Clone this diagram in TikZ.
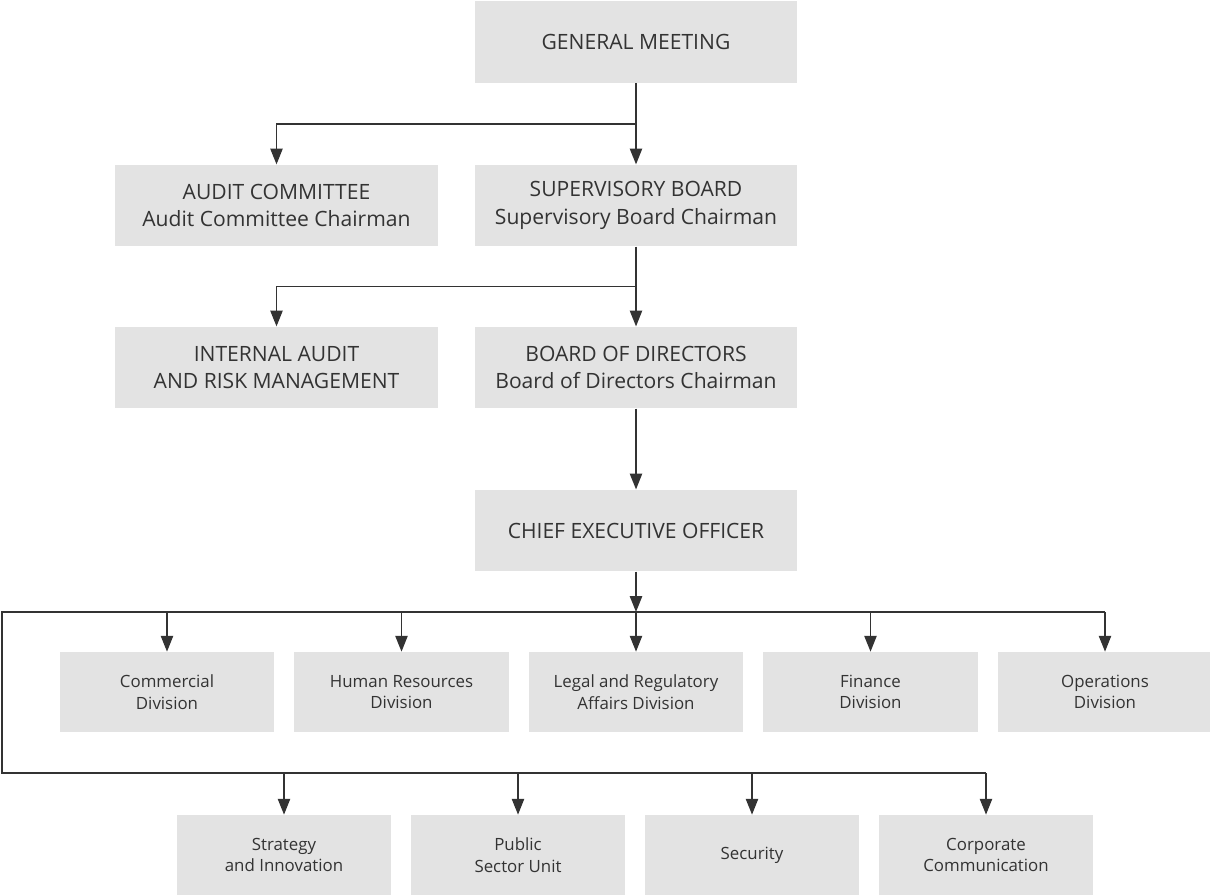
\documentclass[tikz,border=0pt]{standalone}
\usepackage{fontspec}
\setmainfont{Open Sans}
\usepackage{tikz}
\usetikzlibrary{arrows.meta}

\definecolor{boxgray}{HTML}{E3E3E3}
\definecolor{inkgray}{HTML}{333333}

\begin{document}
\begin{tikzpicture}[
	x=0.02cm, y=-0.02cm,
	board/.style={
		shape=rectangle,
		fill=boxgray,
		text=inkgray,
		minimum width=6.46cm,
		minimum height=1.63cm,
		align=center,
		font=\fontsize{12}{15.5}\selectfont},
	unit/.style={
		shape=rectangle,
		fill=boxgray,
		text=inkgray,
		minimum width=4.3cm,
		minimum height=1.6cm,
		align=center,
		font=\fontsize{9.6}{12.3}\selectfont},
	wire/.style={draw=inkgray, line width=0.8pt},
	link/.style={wire, -{Triangle[length=9pt, width=7pt]}}
	]
	\useasboundingbox (0,0) rectangle (1210,895);
	
	\node[board] (gm) at (636,42) {GENERAL MEETING};
	\node[board] (ac) at (276.5,205.5) {AUDIT COMMITTEE\\Audit Committee Chairman};
	\node[board] (sb) at (636,205.5) {SUPERVISORY BOARD\\Supervisory Board Chairman};
	\node[board] (ia) at (276.5,367.5) {INTERNAL AUDIT\\AND RISK MANAGEMENT};
	\node[board] (bod) at (636,367.5) {BOARD OF DIRECTORS\\Board of Directors Chairman};
	\node[board] (ceo) at (636,530.5) {CHIEF EXECUTIVE OFFICER};
	
	\node[unit] (comm) at (167,692) {Commercial\\Division};
	\node[unit] (hr) at (401.5,692) {Human Resources\\Division};
	\node[unit] (legal) at (636,692) {Legal and Regulatory\\Affairs Division};
	\node[unit] (fin) at (870.5,692) {Finance\\Division};
	\node[unit] (ops) at (1105,692) {Operations\\Division};
	
	\node[unit] (strat) at (284,855) {Strategy\\and Innovation};
	\node[unit] (psu) at (518,855) {Public\\Sector Unit};
	\node[unit] (sec) at (752,855) {Security};
	\node[unit] (corp) at (986,855) {Corporate\\Communication};
	
	\coordinate (ja) at (636,124);
	\coordinate (jb) at (636,286.5);
	\coordinate (busa) at (2,612);
	\coordinate (busb) at (2,773);
	
	\draw[link] (gm) -- (sb);
	\draw[link] (ja) -| (ac);
	\draw[link] (sb) -- (bod);
	\draw[link] (jb) -| (ia);
	\draw[link] (bod) -- (ceo);
	
	\draw[link] (ceo) -- (ceo.south |- busa);
	\draw[wire] (ops.north |- busa) -- (busa) -- (busb) -- (corp.north |- busb);
	\foreach \d in {comm,hr,legal,fin,ops}
		\draw[link] (\d.north |- busa) -- (\d);
	\foreach \d in {strat,psu,sec,corp}
		\draw[link] (\d.north |- busb) -- (\d);
\end{tikzpicture}
\end{document}
